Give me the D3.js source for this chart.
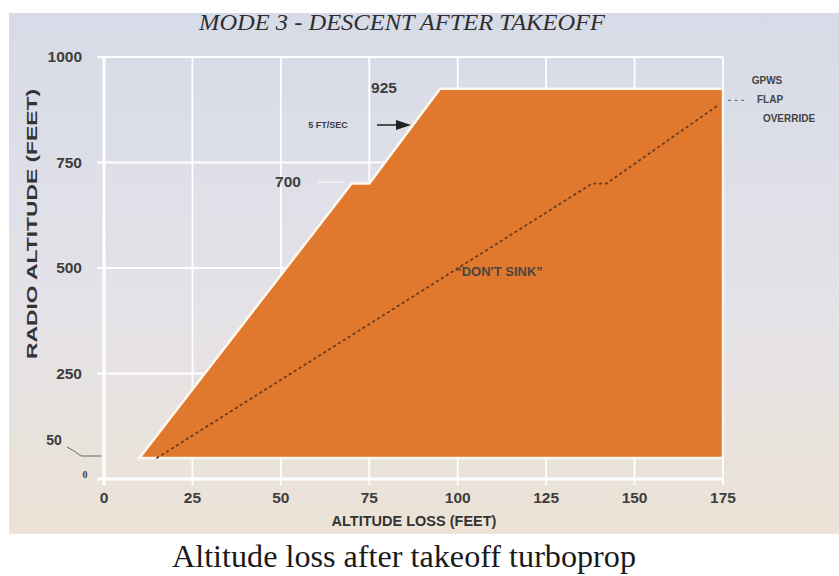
<!DOCTYPE html>
<html>
<head>
<meta charset="utf-8">
<script src="https://cdn.jsdelivr.net/npm/d3@7"></script>
<style>
  body { margin: 0; background: #fff; }
  svg { display: block; }
</style>
</head>
<body>
<div id="chart"></div>
<script>
// Mode 3 envelope (altitude loss vs radio altitude)
const envelopeLoss = [10, 70, 75, 95, 175, 175];
const envelopeAlt = [50, 700, 700, 925, 925, 50];

// GPWS flap override boundary (dotted)
const flapLoss = [15, 138, 142, 174];
const flapAlt = [50, 700, 700, 888];

const xTicks = [0, 25, 50, 75, 100, 125, 150, 175];
const yTicks = [250, 500, 750, 1000];

const width = 839, height = 576;

const svg = d3.select("#chart").append("svg")
  .attr("width", width)
  .attr("height", height);

const defs = svg.append("defs");
const bg = defs.append("linearGradient")
  .attr("id", "bgGrad")
  .attr("x1", "0%").attr("y1", "0%").attr("x2", "0%").attr("y2", "100%");
bg.append("stop").attr("offset", "0%").style("stop-color", "#d6dbe7");
bg.append("stop").attr("offset", "55%").style("stop-color", "#e4e2e8");
bg.append("stop").attr("offset", "100%").style("stop-color", "#ece3d6");

// panel background
svg.append("rect")
  .attr("x", 9).attr("y", 13)
  .attr("width", width - 9).attr("height", 521)
  .attr("fill", "url(#bgGrad)");

const x = d3.scaleLinear().domain([0, 175]).range([104, 723]);
const y = d3.scaleLinear().domain([0, 1000]).range([479, 57]);

// grid
const grid = svg.append("g");
grid.selectAll("line.v")
  .data(xTicks.slice(1))
  .join("line")
  .attr("x1", d => x(d)).attr("x2", d => x(d))
  .attr("y1", y(1000)).attr("y2", y(0) + 6)
  .attr("stroke", "#fff").attr("stroke-width", 1.8);
grid.selectAll("line.h")
  .data(yTicks)
  .join("line")
  .attr("x1", x(0) - 7).attr("x2", x(175))
  .attr("y1", d => y(d)).attr("y2", d => y(d))
  .attr("stroke", "#fff").attr("stroke-width", 1.8);

// axes lines
svg.append("line")
  .attr("x1", x(0)).attr("x2", x(0))
  .attr("y1", y(1000)).attr("y2", y(0) + 6)
  .attr("stroke", "#fff").attr("stroke-width", 3);
svg.append("line")
  .attr("x1", x(0) - 7).attr("x2", x(175))
  .attr("y1", y(0)).attr("y2", y(0))
  .attr("stroke", "#fff").attr("stroke-width", 3);

// envelope
const pts = envelopeLoss.map((d, i) => [x(d), y(envelopeAlt[i])]);
svg.append("path")
  .attr("d", d3.line()(pts) + "Z")
  .attr("fill", "#e0792e")
  .attr("stroke", "#fff8ee")
  .attr("stroke-width", 2.5)
  .attr("stroke-linejoin", "miter");

// dotted flap override line
const fpts = flapLoss.map((d, i) => [x(d), y(flapAlt[i])]);
svg.append("path")
  .attr("d", d3.line()(fpts))
  .attr("fill", "none")
  .attr("stroke", "#6a3b1c")
  .attr("stroke-width", 1.8)
  .attr("stroke-dasharray", "1.6,4.2")
  .attr("stroke-linecap", "round");
svg.append("line")
  .attr("x1", x(176.5)).attr("x2", x(181))
  .attr("y1", y(897)).attr("y2", y(897))
  .attr("stroke", "#666").attr("stroke-width", 1.3)
  .attr("stroke-dasharray", "2.5,4");

const sans = "'Liberation Sans', Arial, sans-serif";
const serif = "'Liberation Serif', 'Times New Roman', serif";

// tick labels
svg.append("g").selectAll("text")
  .data(yTicks)
  .join("text")
  .attr("x", 82).attr("y", d => y(d))
  .attr("dy", "0.35em")
  .attr("text-anchor", "end")
  .attr("font-family", sans).attr("font-size", 15.5).attr("font-weight", "bold")
  .attr("fill", "#3d3d3d")
  .text(d => d);

svg.append("g").selectAll("text")
  .data(xTicks)
  .join("text")
  .attr("x", d => x(d)).attr("y", 498)
  .attr("dy", "0.35em")
  .attr("text-anchor", "middle")
  .attr("font-family", sans).attr("font-size", 15.5).attr("font-weight", "bold")
  .attr("fill", "#3d3d3d")
  .text(d => d);

// small "0" and "50" labels at left
svg.append("text")
  .attr("x", 85).attr("y", y(0) - 1)
  .attr("text-anchor", "middle")
  .attr("font-family", serif).attr("font-size", 10).attr("font-weight", "bold")
  .attr("fill", "#3a3a3a")
  .text("0");
svg.append("text")
  .attr("x", 54).attr("y", 440)
  .attr("dy", "0.35em")
  .attr("text-anchor", "middle")
  .attr("font-family", sans).attr("font-size", 14).attr("font-weight", "bold")
  .attr("fill", "#3d3d3d")
  .text("50");
svg.append("path")
  .attr("d", `M67,447 Q75,451 81,456 L${x(0) - 3},456`)
  .attr("fill", "none")
  .attr("stroke", "#666").attr("stroke-width", 1);

// axis titles
svg.append("text")
  .attr("x", 414).attr("y", 521)
  .attr("dy", "0.35em")
  .attr("text-anchor", "middle")
  .attr("font-family", sans).attr("font-size", 14.5).attr("font-weight", "bold")
  .attr("fill", "#333")
  .text("ALTITUDE LOSS (FEET)");

svg.append("text")
  .attr("transform", "translate(32,224) rotate(-90)")
  .attr("dy", "0.35em")
  .attr("text-anchor", "middle")
  .attr("font-family", sans).attr("font-size", 15).attr("font-weight", "bold")
  .attr("fill", "#333")
  .attr("textLength", 270)
  .attr("lengthAdjust", "spacingAndGlyphs")
  .text("RADIO ALTITUDE (FEET)");

// annotations
svg.append("text")
  .attr("x", 384).attr("y", 88)
  .attr("dy", "0.35em")
  .attr("text-anchor", "middle")
  .attr("font-family", sans).attr("font-size", 15.5).attr("font-weight", "bold")
  .attr("fill", "#3d3d3d")
  .text("925");
svg.append("text")
  .attr("x", 288).attr("y", 182)
  .attr("dy", "0.35em")
  .attr("text-anchor", "middle")
  .attr("font-family", sans).attr("font-size", 15.5).attr("font-weight", "bold")
  .attr("fill", "#3d3d3d")
  .text("700");
svg.append("line")
  .attr("x1", 318).attr("x2", x(68))
  .attr("y1", 182).attr("y2", 182)
  .attr("stroke", "#fff").attr("stroke-width", 1);

svg.append("text")
  .attr("x", 328).attr("y", 125)
  .attr("dy", "0.35em")
  .attr("text-anchor", "middle")
  .attr("font-family", sans).attr("font-size", 9).attr("font-weight", "bold")
  .attr("fill", "#3d3d3d")
  .text("5 FT/SEC");
svg.append("line")
  .attr("x1", 377).attr("x2", 400)
  .attr("y1", 125).attr("y2", 125)
  .attr("stroke", "#222").attr("stroke-width", 1.5);
svg.append("path")
  .attr("d", "M396,120 L411,125 L396,130 Z")
  .attr("fill", "#222");

const gpws = [["GPWS", 767, 80], ["FLAP", 770, 99], ["OVERRIDE", 789, 118]];
svg.append("g").selectAll("text")
  .data(gpws)
  .join("text")
  .attr("x", d => d[1]).attr("y", d => d[2])
  .attr("dy", "0.35em")
  .attr("text-anchor", "middle")
  .attr("font-family", sans).attr("font-size", 10).attr("font-weight", "bold")
  .attr("fill", "#444")
  .text(d => d[0]);

svg.append("text")
  .attr("x", 499).attr("y", 271)
  .attr("dy", "0.35em")
  .attr("text-anchor", "middle")
  .attr("font-family", sans).attr("font-size", 13).attr("font-weight", "bold")
  .attr("fill", "#4a4542")
  .text("\u201CDON'T SINK\u201D");

// chart title (italic serif, clipped at panel top)
svg.append("text")
  .attr("x", 402).attr("y", 30)
  .attr("text-anchor", "middle")
  .attr("font-family", serif).attr("font-size", 24).attr("font-style", "italic")
  .attr("fill", "#2e2e2e")
  .attr("textLength", 406)
  .attr("lengthAdjust", "spacingAndGlyphs")
  .text("MODE 3 - DESCENT AFTER TAKEOFF");
// white strip above the panel hides the top of the title
svg.append("rect")
  .attr("x", 0).attr("y", 0).attr("width", width).attr("height", 13)
  .attr("fill", "#fff");

// caption below
svg.append("text")
  .attr("x", 404).attr("y", 567)
  .attr("text-anchor", "middle")
  .attr("font-family", serif).attr("font-size", 31)
  .attr("fill", "#1a1a1a")
  .attr("textLength", 464)
  .attr("lengthAdjust", "spacingAndGlyphs")
  .text("Altitude loss after takeoff turboprop");
</script>
</body>
</html>
